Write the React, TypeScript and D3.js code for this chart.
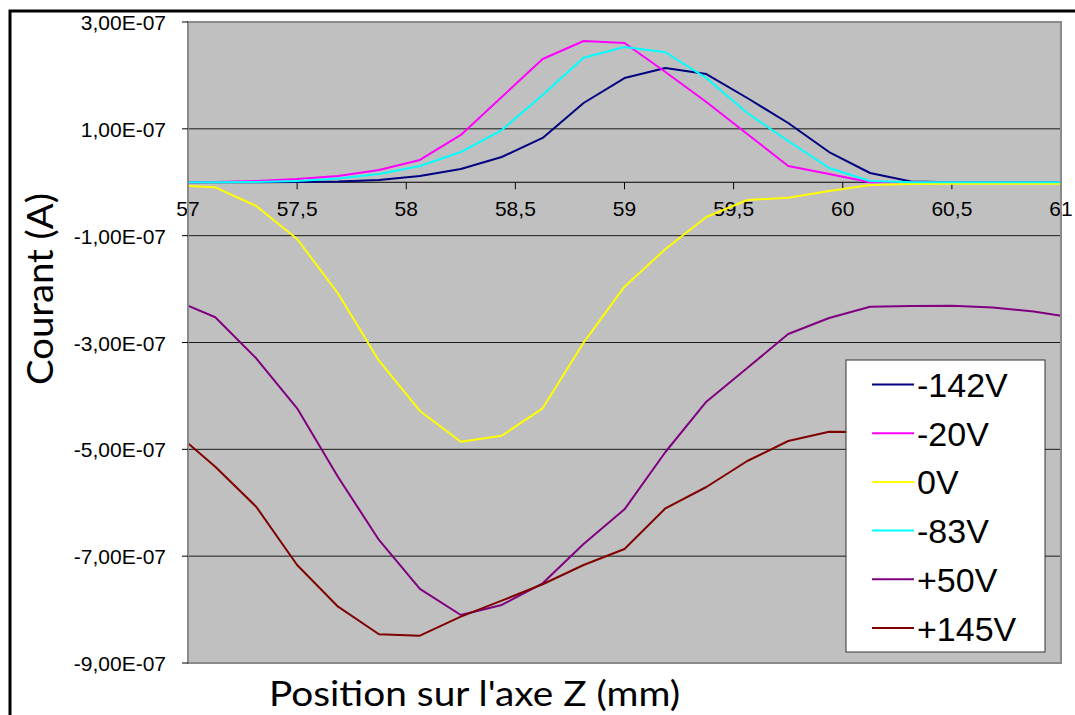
import React from "react";
import * as d3 from "d3";

const positions = [57, 57.125, 57.3125, 57.5, 57.6875, 57.875, 58.0625, 58.25, 58.4375, 58.625, 58.8125, 59, 59.1875, 59.375, 59.5625, 59.75, 59.9375, 60.125, 60.3125, 60.5, 60.6875, 60.875, 61];

const sM142 = [0, 0, 0, 0.005, 0.014, 0.042, 0.117, 0.248, 0.473, 0.829, 1.484, 1.951, 2.138, 2.026, 1.577, 1.109, 0.566, 0.173, 0.014, 0, 0, 0, 0];
const sM20 = [0, 0.005, 0.023, 0.061, 0.117, 0.229, 0.417, 0.885, 1.596, 2.307, 2.644, 2.607, 2.064, 1.502, 0.903, 0.304, 0.154, 0, 0, 0, 0, 0, 0];
const s0 = [-0.07, -0.095, -0.445, -1.062, -2.083, -3.341, -4.282, -4.857, -4.745, -4.232, -3.004, -1.955, -1.25, -0.651, -0.332, -0.289, -0.164, -0.051, -0.033, -0.03, -0.03, -0.03, -0.03];
const sM83 = [0, 0, 0.005, 0.023, 0.07, 0.154, 0.304, 0.566, 0.978, 1.633, 2.33, 2.532, 2.434, 1.951, 1.296, 0.772, 0.267, 0.023, 0, 0, 0, 0, 0];
const sP50 = [-2.311, -2.528, -3.296, -4.232, -5.518, -6.697, -7.614, -8.101, -7.914, -7.508, -6.772, -6.123, -5.05, -4.108, -3.477, -2.841, -2.541, -2.33, -2.317, -2.311, -2.345, -2.42, -2.498];
const sP145 = [-4.887, -5.325, -6.074, -7.165, -7.946, -8.462, -8.488, -8.133, -7.833, -7.526, -7.165, -6.865, -6.104, -5.705, -5.218, -4.844, -4.67, -4.675];

const seriesNames = ["-142V", "-20V", "0V", "-83V", "+50V", "+145V"];
const seriesColors = ["#000080", "#FF00FF", "#FFFF00", "#00FFFF", "#800080", "#800000"];
const seriesValues = [sM142, sM20, s0, sM83, sP50, sP145];

const yTicks = [3e-7, 1e-7, -1e-7, -3e-7, -5e-7, -7e-7, -9e-7];
const xTicks = [57, 57.5, 58, 58.5, 59, 59.5, 60, 60.5, 61];
const UNIT = 1e-7;

const fmtY = (v: number) => `${(v / UNIT).toFixed(2).replace(".", ",")}E-07`;
const fmtX = (v: number) => String(v).replace(".", ",");

export default function App() {
  const L = 188, R = 1061, T = 22, B = 663;
  const x = d3.scaleLinear().domain([57, 61]).range([L, R]);
  const y = d3.scaleLinear().domain([-9e-7, 3e-7]).range([B, T]);
  const line = d3
    .line<[number, number | null]>()
    .defined((d) => d[1] !== null && d[1] !== undefined)
    .x((d) => x(d[0]))
    .y((d) => y((d[1] as number) * UNIT));

  const legX = 846, legY = 360, legW = 199, legH = 292;
  const rowStart = 384.5, rowStep = 48.7;

  return (
    <svg
      width={1075}
      height={715}
      style={{ position: "absolute", left: 0, top: 0, background: "#fff" }}
      fontFamily="'Liberation Sans', Arial, sans-serif"
    >
      <defs>
        <clipPath id="plotclip">
          <rect x={L} y={T} width={R - L} height={B - T} />
        </clipPath>
      </defs>
      {/* outer frame */}
      <rect x={10} y={11} width={1200} height={900} fill="none" stroke="#000" strokeWidth={3} />

      {/* plot area */}
      <rect x={L} y={T} width={R - L} height={B - T} fill="#C0C0C0" />
      {yTicks.map((t) => (
        <line key={"g" + t} x1={L} x2={R} y1={y(t)} y2={y(t)} stroke="#1a1a1a" strokeWidth={1} />
      ))}
      {/* x axis at zero */}
      <line x1={L} x2={R} y1={y(0)} y2={y(0)} stroke="#000" strokeWidth={1} />
      {xTicks.map((t) => (
        <line key={"xt" + t} x1={x(t)} x2={x(t)} y1={y(0)} y2={y(0) + 7} stroke="#000" strokeWidth={1} />
      ))}
      {xTicks.map((t) => (
        <text key={"xl" + t} x={x(t)} y={y(0) + 34} fontSize={21} textAnchor="middle" fill="#000">
          {fmtX(t)}
        </text>
      ))}

      {/* series */}
      <g clipPath="url(#plotclip)">
        {seriesValues.map((vals, i) => (
          <path
            key={seriesNames[i]}
            d={line(positions.map((p, k) => [p, k < vals.length ? vals[k] : null]) as any) || ""}
            fill="none"
            stroke={seriesColors[i]}
            strokeWidth={2}
            strokeLinejoin="round"
          />
        ))}
      </g>

      {/* plot border */}
      <rect x={L} y={T} width={R - L} height={B - T} fill="none" stroke="#8a8a8a" strokeWidth={2} />

      {/* y axis ticks & labels */}
      {yTicks.map((t) => (
        <g key={"yt" + t}>
          <line x1={L - 6} x2={L} y1={y(t)} y2={y(t)} stroke="#000" strokeWidth={1} />
          <text x={166} y={y(t) + 8} fontSize={21} textAnchor="end" fill="#000">
            {fmtY(t)}
          </text>
        </g>
      ))}

      {/* axis titles */}
      <text
        transform={`translate(53,289) rotate(-90)`}
        textAnchor="middle"
        fontFamily="Lato, 'Open Sans', sans-serif"
        fontSize={36}
        textLength={192}
        lengthAdjust="spacingAndGlyphs"
        fill="#000"
      >
        Courant (A)
      </text>
      <text
        x={474.5}
        y={706}
        textAnchor="middle"
        fontFamily="Lato, 'Open Sans', sans-serif"
        fontSize={35}
        textLength={411}
        lengthAdjust="spacingAndGlyphs"
        fill="#000"
      >
        Position sur l'axe Z (mm)
      </text>

      {/* legend */}
      <rect x={legX} y={legY} width={legW} height={legH} fill="#fff" stroke="#333" strokeWidth={1} />
      {seriesNames.map((n, i) => {
        const ry = rowStart + i * rowStep;
        return (
          <g key={"lg" + n}>
            <line x1={872} x2={914} y1={ry} y2={ry} stroke={seriesColors[i]} strokeWidth={2} />
            <text x={917} y={ry + 12.5} fontSize={34} fill="#000">
              {n}
            </text>
          </g>
        );
      })}
    </svg>
  );
}
